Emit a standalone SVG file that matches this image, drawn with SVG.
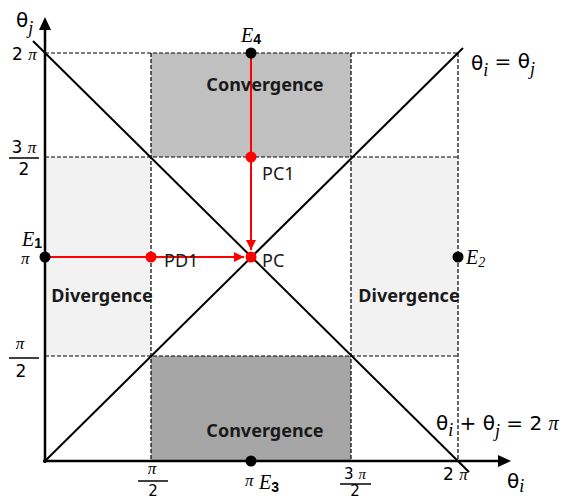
<svg xmlns="http://www.w3.org/2000/svg" width="565" height="499" viewBox="0 0 565 499">
<defs>
<style>
.dash{stroke:#000;stroke-width:1.2;stroke-dasharray:4 2;fill:none}
.diag{stroke:#000;stroke-width:2;fill:none}
.axis{stroke:#000;stroke-width:2.5;fill:none}
.red{stroke:#ff0000;stroke-width:2;fill:none}
.lbl{font-family:"Noto Sans","Open Sans",sans-serif;font-size:18px;fill:#1a1a1a}
.bold{font-family:"Noto Sans","Open Sans",sans-serif;font-size:18px;font-weight:bold;fill:#1a1a1a}
.num{font-family:"DejaVu Sans","Noto Sans",sans-serif;font-size:17px;fill:#000}
.small{font-size:15px}
.pi{font-family:"Liberation Serif",serif;font-style:italic}
.E{font-family:"Liberation Serif",serif;font-style:italic;font-size:20px;fill:#000}
.sub{font-family:"Liberation Sans",sans-serif;font-weight:bold;font-style:normal;font-size:14px}
.th{font-family:"DejaVu Sans",sans-serif;font-size:20px;fill:#000}
.ij{font-family:"Liberation Serif",serif;font-style:italic;font-size:18px}
</style>
<marker id="redArrow" viewBox="0 0 10 10" refX="10" refY="5" markerWidth="10" markerHeight="10" markerUnits="userSpaceOnUse" orient="auto">
<path d="M0,0 L10,5 L0,10 Z" fill="#ff0000"/>
</marker>
</defs>

<g id="regions">
<rect x="151" y="53" width="200" height="104" fill="#c0c0c0"/>
<rect x="151" y="356" width="200" height="105" fill="#a6a6a6"/>
<rect x="45" y="157" width="106" height="199" fill="#f2f2f2"/>
<rect x="351" y="157" width="107" height="199" fill="#f2f2f2"/>
</g>

<g id="grid">
<line class="dash" x1="45" y1="53" x2="458" y2="53"/>
<line class="dash" x1="45" y1="157" x2="458" y2="157"/>
<line class="dash" x1="45" y1="356" x2="458" y2="356"/>
<line class="dash" x1="151" y1="53" x2="151" y2="461"/>
<line class="dash" x1="351" y1="53" x2="351" y2="461"/>
<line class="dash" x1="458" y1="53" x2="458" y2="461"/>
</g>

<g id="diagonals">
<line class="diag" x1="33" y1="41" x2="469" y2="472"/>
<line class="diag" x1="45" y1="461" x2="463" y2="48"/>
</g>

<g id="axes">
<line class="axis" x1="45" y1="463" x2="45" y2="26"/>
<path d="M45,17 L51,30 L39,30 Z" fill="#000"/>
<line class="axis" x1="43" y1="461" x2="501" y2="461"/>
<path d="M511,461 L498,467 L498,455 Z" fill="#000"/>
</g>

<g id="connectors">
<line class="red" x1="251" y1="53" x2="251" y2="250" marker-end="url(#redArrow)"/>
<line class="red" x1="45" y1="257" x2="244" y2="257" marker-end="url(#redArrow)"/>
</g>

<g id="E1"><circle cx="45" cy="257" r="5.5" fill="#000"/><text class="E" x="22" y="246">E<tspan class="sub" dy="2">1</tspan></text></g>
<g id="E2"><circle cx="458" cy="257" r="5.5" fill="#000"/><text class="E" x="466" y="264">E<tspan dy="3" font-size="14">2</tspan></text></g>
<g id="E3"><circle cx="251" cy="461" r="5.5" fill="#000"/><text class="E" x="259" y="489">E<tspan class="sub" dy="3">3</tspan></text></g>
<g id="E4"><circle cx="251" cy="53" r="5.5" fill="#000"/><text class="E" x="241" y="42">E<tspan class="sub" dy="2">4</tspan></text></g>
<g id="PC1"><circle cx="251" cy="157" r="5.5" fill="#ff0000"/><text class="lbl" x="262" y="180">PC1</text></g>
<g id="PD1"><circle cx="151" cy="257" r="5.5" fill="#ff0000"/><text class="lbl" x="164" y="267">PD1</text></g>
<g id="PC"><circle cx="251" cy="257" r="5.5" fill="#ff0000"/><text class="lbl" x="262" y="267">PC</text></g>

<g id="labels">
<text class="bold" x="265" y="91" text-anchor="middle">Convergence</text>
<text class="bold" x="265" y="437" text-anchor="middle">Convergence</text>
<text class="bold" x="102" y="302" text-anchor="middle">Divergence</text>
<text class="bold" x="409" y="302" text-anchor="middle">Divergence</text>
</g>

<g id="ticks">
<text class="num" x="12" y="60">2 <tspan class="pi">π</tspan></text>
<text class="num" x="24" y="153" text-anchor="middle">3 <tspan class="pi">π</tspan></text>
<line x1="9" y1="158" x2="39" y2="158" stroke="#000" stroke-width="1.5"/>
<text class="num" x="24" y="175" text-anchor="middle">2</text>
<text class="num pi" x="21" y="264">π</text>
<text class="num pi" x="20" y="349" text-anchor="middle">π</text>
<line x1="9" y1="358" x2="39" y2="358" stroke="#000" stroke-width="1.5"/>
<text class="num" x="21" y="377" text-anchor="middle">2</text>
<text class="num pi" x="152" y="474" text-anchor="middle">π</text>
<line x1="138" y1="481" x2="168" y2="481" stroke="#000" stroke-width="1.5"/>
<text class="num small" x="153" y="496" text-anchor="middle">2</text>
<text class="num pi" x="245" y="486">π</text>
<text class="num small" x="355" y="479" text-anchor="middle">3 <tspan class="pi">π</tspan></text>
<line x1="340" y1="484" x2="371" y2="484" stroke="#000" stroke-width="1.5"/>
<text class="num small" x="355" y="496" text-anchor="middle">2</text>
<text class="num" x="443" y="480">2 <tspan class="pi">π</tspan></text>
</g>

<g id="axisLabels">
<text class="th" x="16" y="27">θ<tspan class="ij" dy="7">j</tspan></text>
<text class="th" x="507" y="488">θ<tspan class="ij" dy="4">i</tspan></text>
<text class="th" x="471" y="70">θ<tspan class="ij" dy="6">i</tspan><tspan dy="-8"> = </tspan>θ<tspan class="ij" dy="7">j</tspan></text>
<text class="th" x="436" y="430">θ<tspan class="ij" dy="6">i</tspan><tspan dy="-6"> + </tspan>θ<tspan class="ij" dy="7">j</tspan><tspan dy="-7"> = 2 </tspan><tspan class="pi">π</tspan></text>
</g>
</svg>
